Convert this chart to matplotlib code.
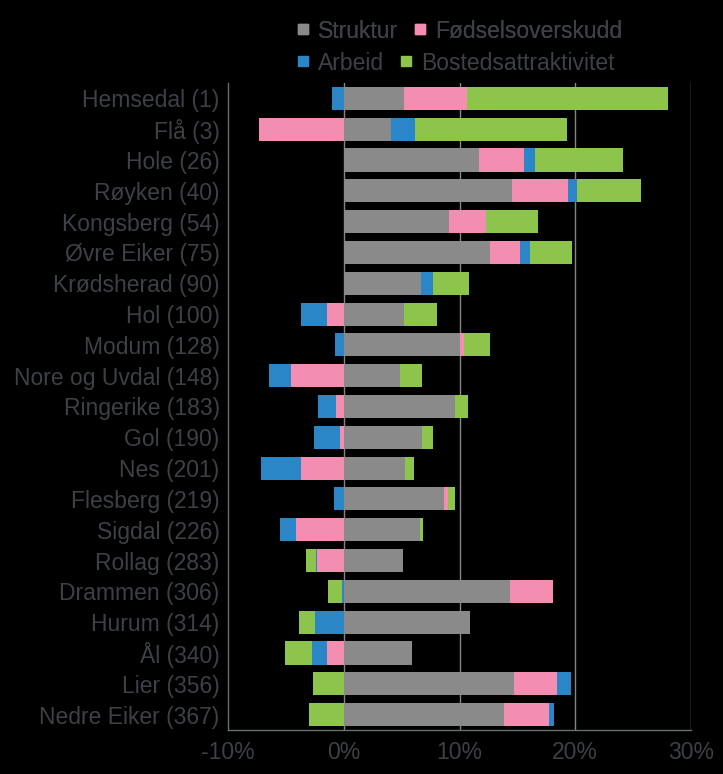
import matplotlib.pyplot as plt
import numpy as np
from matplotlib.lines import Line2D

# kommuner (top to bottom) and growth contributions in %
kommuner = ['Hemsedal (1)', 'Flå (3)', 'Hole (26)', 'Røyken (40)', 'Kongsberg (54)',
            'Øvre Eiker (75)', 'Krødsherad (90)', 'Hol (100)', 'Modum (128)',
            'Nore og Uvdal (148)', 'Ringerike (183)', 'Gol (190)', 'Nes (201)',
            'Flesberg (219)', 'Sigdal (226)', 'Rollag (283)', 'Drammen (306)',
            'Hurum (314)', 'Ål (340)', 'Lier (356)', 'Nedre Eiker (367)']
struktur = [5.18, 4.09, 11.69, 14.51, 9.13, 12.61, 6.71, 5.24, 10.02, 4.87, 9.65,
            6.74, 5.27, 8.70, 6.59, 5.16, 14.37, 10.94, 5.93, 14.74, 13.85]
fodsel = [5.47, -7.34, 3.89, 4.87, 3.20, 2.65, 0.0, -1.47, 0.35, -4.52, -0.69,
          -0.35, -3.66, 0.32, -4.12, -2.30, 3.74, 0.0, -1.47, 3.71, 3.86]
arbeid = [-0.98, 2.04, 0.92, 0.75, 0.0, 0.86, 0.98, -2.25, -0.78, -1.90, -1.53,
          -2.19, -3.46, -0.86, -1.35, -0.12, -0.14, -2.48, -1.30, 1.15, 0.46]
bosted = [17.4, 13.19, 7.63, 5.56, 4.41, 3.60, 3.11, 2.82, 2.25, 1.90, 1.12,
          1.01, 0.78, 0.58, 0.29, -0.81, -1.21, -1.38, -2.28, -2.68, -3.00]

series = [('Struktur', struktur, '#8a8a8a'),
          ('Fødselsoverskudd', fodsel, '#f48db2'),
          ('Arbeid', arbeid, '#2b86c8'),
          ('Bostedsattraktivitet', bosted, '#8dc44b')]

txt = '#3d4145'
plt.rcParams['font.family'] = ['Liberation Sans', 'DejaVu Sans']
plt.rcParams['font.size'] = 16.5

fig = plt.figure(figsize=(7.23, 7.74), dpi=100, facecolor='black')
ax = fig.add_axes([228 / 723, 44 / 774, 463 / 723, 647 / 774])
ax.set_facecolor('black')

y = np.arange(len(kommuner))
pos_base = np.zeros(len(kommuner))
neg_base = np.zeros(len(kommuner))
handles = {}
for name, vals, col in series:
    v = np.array(vals)
    left = np.where(v >= 0, pos_base, neg_base)
    ax.barh(y, v, left=left, height=0.75, color=col, zorder=3)
    pos_base += np.where(v >= 0, v, 0)
    neg_base += np.where(v < 0, v, 0)
    handles[name] = Line2D([], [], marker='s', linestyle='none', markersize=7,
                           markerfacecolor=col, markeredgecolor=col)

ax.set_ylim(len(kommuner) - 0.5, -0.5)
ax.set_yticks(y)
ax.set_yticklabels(kommuner)
ax.set_xlim(-10, 30)
ax.set_xticks([-10, 0, 10, 20, 30])
ax.set_xticklabels(['-10%', '0%', '10%', '20%', '30%'])
ax.tick_params(axis='y', length=0, pad=6, colors=txt)
ax.tick_params(axis='x', length=0, pad=8, colors=txt)

for xv in [0, 10, 20, 30]:
    ax.axvline(xv, color='#858585', linewidth=1, zorder=1)
for s in ['top', 'right']:
    ax.spines[s].set_visible(False)
for s in ['left', 'bottom']:
    ax.spines[s].set_color('#65706f')
    ax.spines[s].set_linewidth(1)

leg_kw = dict(loc='center left', ncol=2, frameon=False, borderpad=0,
              handlelength=0.5, handletextpad=0.4, columnspacing=0.7,
              labelcolor=txt, fontsize=16.5)
leg1 = fig.legend([handles['Struktur'], handles['Fødselsoverskudd']],
                  ['Struktur', 'Fødselsoverskudd'],
                  bbox_to_anchor=(286 / 723, 1 - 31 / 774), **leg_kw)
fig.add_artist(leg1)
fig.legend([handles['Arbeid'], handles['Bostedsattraktivitet']],
           ['Arbeid', 'Bostedsattraktivitet'],
           bbox_to_anchor=(286 / 723, 1 - 63 / 774), **leg_kw)

fig.savefig('out.png', dpi=100, facecolor='black')
